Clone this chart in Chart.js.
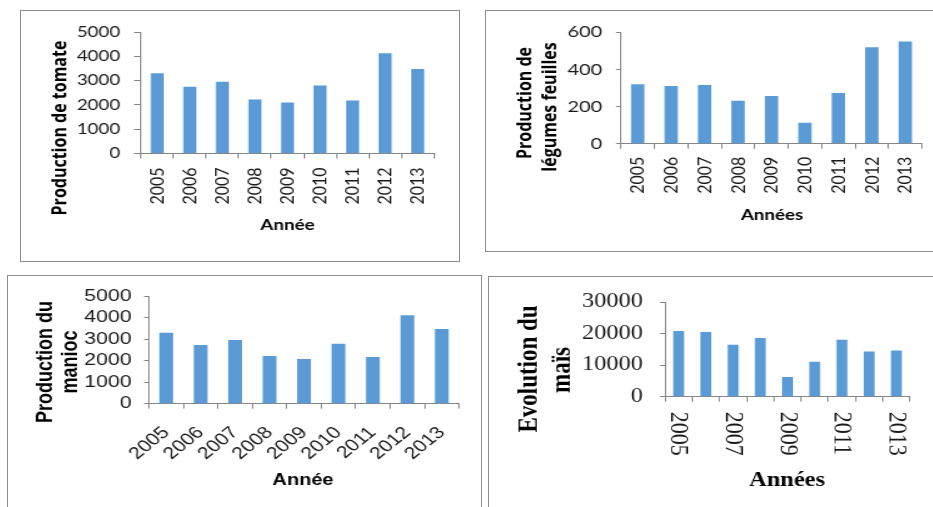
<!DOCTYPE html>
<html>
<head>
<meta charset="utf-8">
<script src="https://cdn.jsdelivr.net/npm/chart.js@4.4.1/dist/chart.umd.min.js"></script>
<style>
  html, body { margin: 0; padding: 0; background: #fff; width: 933px; height: 507px; overflow: hidden; position: relative; }
  .panel { position: absolute; box-sizing: border-box; border: 1px solid #8c8c8c; }
  .panel canvas { position: absolute; left: -1px; top: -1px; transform-origin: 0 0; }
</style>
</head>
<body>
<div class="panel" id="p1"><canvas></canvas></div>
<div class="panel" id="p2"><canvas></canvas></div>
<div class="panel" id="p3"><canvas></canvas></div>
<div class="panel" id="p4"><canvas></canvas></div>
<script>
// Years on the category axis
const years = ['2005', '2006', '2007', '2008', '2009', '2010', '2011', '2012', '2013'];

// Production series, one per crop
const tomate  = [3300, 2750, 2950, 2220, 2100, 2800, 2180, 4130, 3480];
const legumes = [320, 311, 316, 232, 257, 113, 273, 519, 550];
const manioc  = [3290, 2730, 2960, 2220, 2080, 2780, 2170, 4110, 3470];
const mais    = [20780, 20470, 16480, 18630, 6240, 11050, 18010, 14330, 14640];

// Value-axis tick labels
const tomateTicks  = [0, 1000, 2000, 3000, 4000, 5000];
const legumesTicks = [0, 200, 400, 600];
const maniocTicks  = [0, 1000, 2000, 3000, 4000, 5000];
const maisTicks    = [0, 10000, 20000, 30000];

// Year labels printed under the maize chart
const maisShownYears = ['2005', '2007', '2009', '2011', '2013'];

const BAR = '#5B9BD5';
const AXIS = '#868686';
const INK = '#1a1a1a';
const CAL = 'Lato, "Open Sans", sans-serif';
const HEAVY = '"Open Sans", Lato, sans-serif';
const ARIAL = '"Liberation Sans", Arial, sans-serif';
const TIMES = '"Liberation Serif", "Times New Roman", serif';
const UP = -Math.PI / 2;

// Layout of each framed chart, in page pixels: frame box [x, y, w, h],
// plot area [left, top, right, bottom], horizontal stretch of the drawing.
const panels = [
  {
    id: 'p1', box: [20, 10, 440, 252], plot: [141, 32, 434, 153.5], stretch: 1.25,
    values: tomate, ticks: tomateTicks,
    yFont: { family: CAL, size: 15 }, yPad: 11, yTick: 5.6,
    xFont: { family: CAL, size: 16 }, xPad: 9, xRot: 90,
    titles: [
      { text: 'Production de tomate', x: 61, y: 128, rot: UP, font: 'bold 16px ' + HEAVY },
      { text: 'Année', x: 287.5, y: 225, font: 'bold 15px ' + CAL }
    ]
  },
  {
    id: 'p2', box: [485, 10, 460, 242], plot: [621, 32.3, 922, 143.7], stretch: 1.25,
    values: legumes, ticks: legumesTicks,
    yFont: { family: CAL, size: 16 }, yPad: 11, yTick: 4,
    xFont: { family: CAL, size: 16 }, xPad: 8, xRot: 90,
    titles: [
      { text: 'Production de', x: 526, y: 103, rot: UP, font: 'bold 16px ' + HEAVY },
      { text: 'légumes feuilles', x: 550, y: 107, rot: UP, font: 'bold 16px ' + HEAVY },
      { text: 'Années', x: 772, y: 215, font: 'bold 15px ' + CAL }
    ]
  },
  {
    id: 'p3', box: [7, 275, 475, 240], plot: [149, 296, 459, 403.7], stretch: 1.25,
    values: manioc, ticks: maniocTicks,
    yFont: { family: ARIAL, size: 17 }, yPad: 10, yTick: 4,
    xFont: { family: ARIAL, size: 17 }, xPad: 14, xRot: 45,
    titles: [
      { text: 'Production du', x: 46, y: 362, rot: UP, font: 'bold 18px ' + ARIAL },
      { text: 'manioc', x: 71, y: 362, rot: UP, font: 'bold 18px ' + ARIAL },
      { text: 'Année', x: 303, y: 481, font: 'bold 16px ' + ARIAL }
    ]
  },
  {
    id: 'p4', box: [488, 276, 460, 240], plot: [665, 299, 910, 396.7], stretch: 1.22,
    values: mais, ticks: maisTicks,
    yFont: { family: TIMES, size: 20 }, yPad: 14, yTick: 4,
    xFont: { family: TIMES, size: 22 }, xPad: 10, xRot: null, shown: maisShownYears,
    titles: [
      { text: 'Evolution du', x: 530, y: 369, rot: UP, font: 'bold 23px ' + TIMES },
      { text: 'maïs', x: 562, y: 370, rot: UP, font: 'bold 23px ' + TIMES },
      { text: 'Années', x: 787, y: 481, font: 'bold 20px ' + TIMES }
    ]
  }
];

// Axis titles, written in page coordinates and mapped into the stretched canvas
function titlePlugin(p) {
  return {
    id: 'axisTitles',
    afterDraw(chart) {
      const ctx = chart.ctx;
      const s = p.stretch;
      ctx.save();
      ctx.fillStyle = '#000';
      ctx.textAlign = 'center';
      ctx.textBaseline = 'middle';
      for (const t of p.titles) {
        ctx.save();
        ctx.font = t.font;
        ctx.translate((t.x - p.box[0]) / s, t.y - p.box[1]);
        if (t.rot) ctx.rotate(t.rot);
        ctx.fillText(t.text, 0, 0);
        ctx.restore();
      }
      ctx.restore();
    }
  };
}

// Year labels reading downwards, placed on the category scale's tick positions
function downLabelPlugin(p) {
  return {
    id: 'downLabels',
    afterDraw(chart) {
      const ctx = chart.ctx;
      const xs = chart.scales.x;
      ctx.save();
      ctx.fillStyle = INK;
      ctx.font = p.xFont.size + 'px ' + p.xFont.family;
      ctx.textAlign = 'left';
      ctx.textBaseline = 'middle';
      years.forEach((yr, i) => {
        if (!p.shown.includes(yr)) return;
        ctx.save();
        ctx.translate(xs.getPixelForTick(i), chart.chartArea.bottom + 5 + p.xPad);
        ctx.rotate(Math.PI / 2);
        ctx.fillText(yr, 0, 0);
        ctx.restore();
      });
      ctx.restore();
    }
  };
}

panels.forEach(p => {
  const [bx, by, bw, bh] = p.box;
  const [pl, pt, pr, pb] = p.plot;
  const s = p.stretch;
  const div = document.getElementById(p.id);
  div.style.left = bx + 'px';
  div.style.top = by + 'px';
  div.style.width = bw + 'px';
  div.style.height = bh + 'px';

  const cw = Math.round(bw / s);
  const canvas = div.querySelector('canvas');
  canvas.width = cw;
  canvas.height = bh;
  canvas.style.width = cw + 'px';
  canvas.style.height = bh + 'px';
  canvas.style.transform = 'scaleX(' + s + ')';

  const yAxisWidth = (pl - bx) / s;
  const rightPad = cw - (pr - bx) / s;
  const topPad = pt - by;
  const xAxisHeight = bh - (pb - by);

  const plugins = [titlePlugin(p)];
  if (p.shown) plugins.push(downLabelPlugin(p));

  new Chart(canvas, {
    type: 'bar',
    data: {
      labels: years,
      datasets: [{
        data: p.values,
        backgroundColor: BAR,
        borderWidth: 0,
        barPercentage: 0.4,
        categoryPercentage: 1
      }]
    },
    options: {
      responsive: false,
      maintainAspectRatio: false,
      animation: false,
      devicePixelRatio: 1,
      layout: { padding: { left: 0, top: topPad, right: rightPad, bottom: 0 } },
      plugins: { legend: { display: false }, tooltip: { enabled: false } },
      scales: {
        x: {
          offset: true,
          grid: { display: true, offset: true, drawOnChartArea: false, drawTicks: true, tickLength: 5, color: AXIS, lineWidth: 1 },
          border: { display: true, color: AXIS, width: 1 },
          ticks: {
            display: !p.shown,
            autoSkip: false,
            color: INK,
            font: p.xFont,
            padding: p.xPad,
            minRotation: p.xRot || 0,
            maxRotation: p.xRot || 0
          },
          afterFit(scale) { scale.height = xAxisHeight; }
        },
        y: {
          min: p.ticks[0],
          max: p.ticks[p.ticks.length - 1],
          grid: { display: true, drawOnChartArea: false, drawTicks: true, tickLength: p.yTick, color: AXIS, lineWidth: 1 },
          border: { display: true, color: AXIS, width: 1 },
          ticks: {
            autoSkip: false,
            color: INK,
            font: p.yFont,
            padding: p.yPad,
            callback: v => String(v)
          },
          afterBuildTicks(scale) { scale.ticks = p.ticks.map(v => ({ value: v })); },
          afterFit(scale) { scale.width = yAxisWidth; }
        }
      }
    },
    plugins
  });
});
</script>
</body>
</html>
